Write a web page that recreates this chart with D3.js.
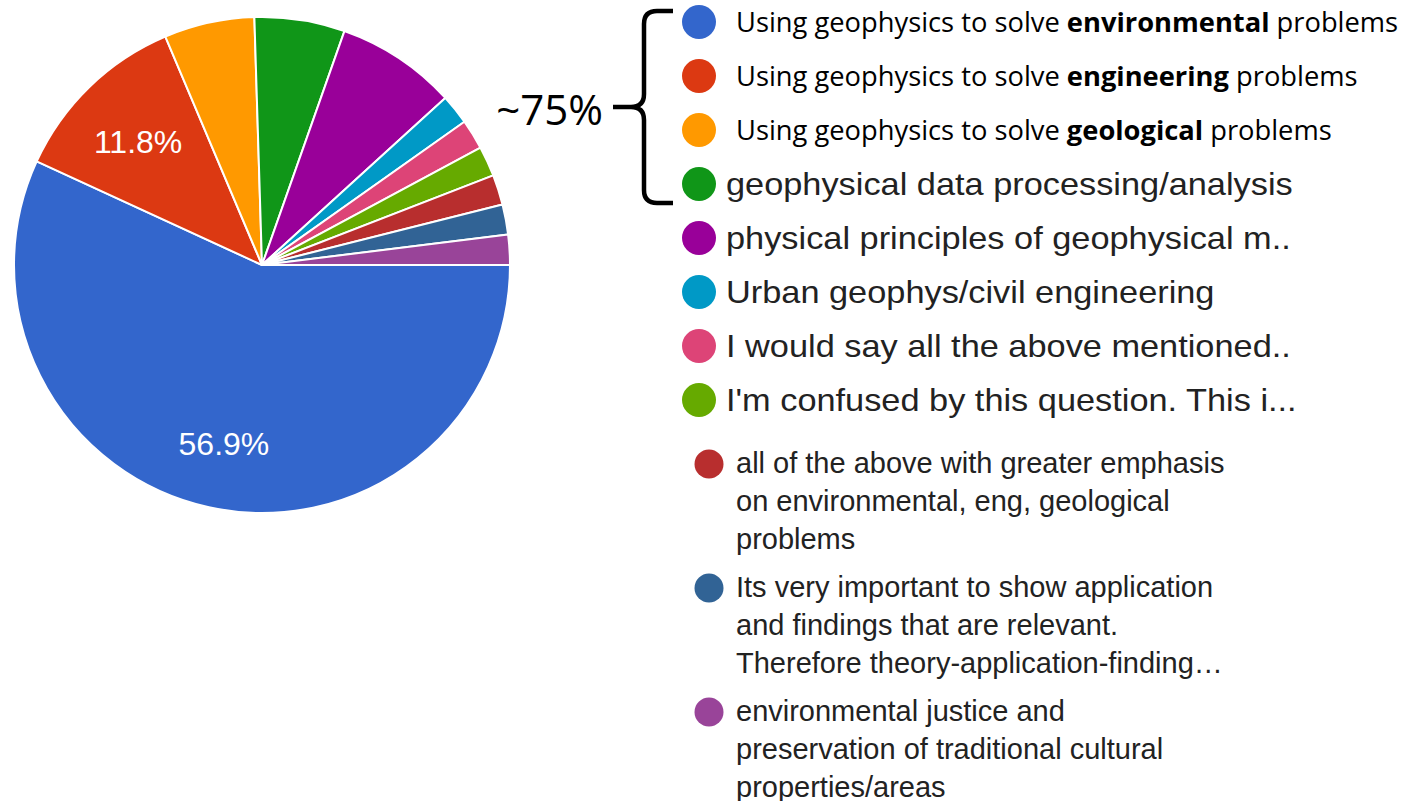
<!DOCTYPE html>
<html>
<head>
<meta charset="utf-8">
<script src="https://cdn.jsdelivr.net/npm/d3@7"></script>
<style>
  html, body { margin: 0; padding: 0; background: #fff; }
  svg { display: block; }
</style>
</head>
<body>
<div id="chart"></div>
<script>
const width = 1414, height = 801;

// answers (counts, 51 responses)
const answers = [
	"Using geophysics to solve environmental problems",
	"Using geophysics to solve engineering problems",
	"Using geophysics to solve geological problems",
	"geophysical data processing/analysis",
	"physical principles of geophysical m..",
	"Urban geophys/civil engineering",
	"I would say all the above mentioned..",
	"I'm confused by this question. This i...",
	"all of the above with greater emphasis on environmental, eng, geological problems",
	"Its very important to show application and findings that are relevant. Therefore theory-application-finding...",
	"environmental justice and preservation of traditional cultural properties/areas"
];
const counts = [29, 6, 3, 3, 4, 1, 1, 1, 1, 1, 1];
const colors = ["#3366cc", "#dc3912", "#ff9900", "#109618", "#990099", "#0099c6",
	"#dd4477", "#66aa00", "#b82e2e", "#316395", "#994499"];

// first three legend entries are typed over with a bold keyword
const keywords = ["environmental", "engineering", "geological"];
// wrapped lines of the last three legend entries
const wrapped = [
	["all of the above with greater emphasis", "on environmental, eng, geological", "problems"],
	["Its very important to show application", "and findings that are relevant.", "Therefore theory-application-finding\u2026"],
	["environmental justice and", "preservation of traditional cultural", "properties/areas"]
];
const bracketLabel = "~75%";

const svg = d3.select("#chart")
	.append("svg")
	.attr("width", width)
	.attr("height", height);

const data = answers.map((a, i) => ({answer: a, count: counts[i], color: colors[i]}));
const total = d3.sum(counts);

// ================ pie ==================
const cx = 262, cy = 265, radius = 248;

const pie = d3.pie()
	.value((d) => d.count)
	.sort(null)
	.startAngle(Math.PI / 2)
	.endAngle(Math.PI / 2 + 2 * Math.PI);

const arc = d3.arc().innerRadius(0).outerRadius(radius);
const labelArc = d3.arc().innerRadius(178).outerRadius(178);

const pieG = svg.append("g")
	.attr("transform", `translate(${cx}, ${cy})`);

pieG.selectAll("path")
	.data(pie(data))
	.enter()
	.append("path")
	.attr("d", arc)
	.attr("fill", (d) => d.data.color)
	.attr("stroke", "#fff")
	.attr("stroke-width", 2)
	.attr("stroke-linejoin", "round");

pieG.selectAll("text")
	.data(pie(data).filter((d) => d.data.count / total > 0.1))
	.enter()
	.append("text")
	.attr("transform", (d) => `translate(${labelArc.centroid(d)})`)
	.attr("text-anchor", "middle")
	.attr("dy", "0.5em")
	.attr("fill", "#fff")
	.style("font-family", "'Liberation Sans', Arial, sans-serif")
	.style("font-size", "32px")
	.text((d) => d3.format(".1%")(d.data.count / total));

// ================ legend ==================
const legend = svg.append("g");
const rowY = d3.scaleLinear().domain([0, 1]).range([22, 76]);

// rows 1-3 : typed-over labels
const typed = legend.selectAll(".typed")
	.data(data.slice(0, 3))
	.enter()
	.append("g")
	.classed("typed", true)
	.attr("transform", (d, i) => `translate(0, ${rowY(i)})`);

typed.append("circle")
	.attr("cx", 699).attr("cy", 0).attr("r", 17)
	.attr("fill", (d) => d.color);

typed.append("text")
	.attr("x", 736)
	.attr("y", 10)
	.style("font-family", "'Open Sans', Lato, sans-serif")
	.style("font-size", "27.3px")
	.attr("fill", "#000")
	.each(function(d, i) {
		const t = d3.select(this);
		const parts = d.answer.split(keywords[i]);
		t.append("tspan").text(parts[0]);
		t.append("tspan").style("font-weight", "bold").text(keywords[i]);
		t.append("tspan").text(parts[1]);
	});

// rows 4-8 : single line Google legend (slightly wide in the picture)
const single = legend.selectAll(".single")
	.data(data.slice(3, 8))
	.enter()
	.append("g")
	.classed("single", true)
	.attr("transform", (d, i) => `translate(0, ${rowY(i + 3)})`);

single.append("circle")
	.attr("cx", 699).attr("cy", 0).attr("r", 17)
	.attr("fill", (d) => d.color);

single.append("text")
	.attr("transform", "translate(726, 11) scale(1.09, 1)")
	.attr("fill", "#222")
	.style("font-family", "'Liberation Sans', Arial, sans-serif")
	.style("font-size", "31.5px")
	.text((d) => d.answer);

// rows 9-11 : wrapped entries
const multi = legend.selectAll(".multi")
	.data(data.slice(8))
	.enter()
	.append("g")
	.classed("multi", true)
	.attr("transform", (d, i) => `translate(0, ${464 + i * 124})`);

multi.append("circle")
	.attr("cx", 709).attr("cy", 0).attr("r", 14.5)
	.attr("fill", (d) => d.color);

multi.append("text")
	.attr("fill", "#222")
	.style("font-family", "'Liberation Sans', Arial, sans-serif")
	.style("font-size", "29px")
	.each(function(d, i) {
		d3.select(this).selectAll("tspan")
			.data(wrapped[i])
			.enter()
			.append("tspan")
			.attr("x", 736)
			.attr("y", (l, j) => 9 + j * 38)
			.text((l) => l);
	});

// ================ bracket ==================
svg.append("path")
	.attr("d", "M673,11 L657,11 Q644,11 644,24 L644,94 Q644,107 631,107 L613,107 M631,107 Q644,107 644,120 L644,190 Q644,203 657,203 L673,203")
	.attr("fill", "none")
	.attr("stroke", "#000")
	.attr("stroke-width", 4.5);

svg.append("text")
	.attr("x", 603)
	.attr("y", 125)
	.attr("text-anchor", "end")
	.style("font-family", "'Open Sans', Lato, sans-serif")
	.style("font-size", "42px")
	.text(bracketLabel);
</script>
</body>
</html>
